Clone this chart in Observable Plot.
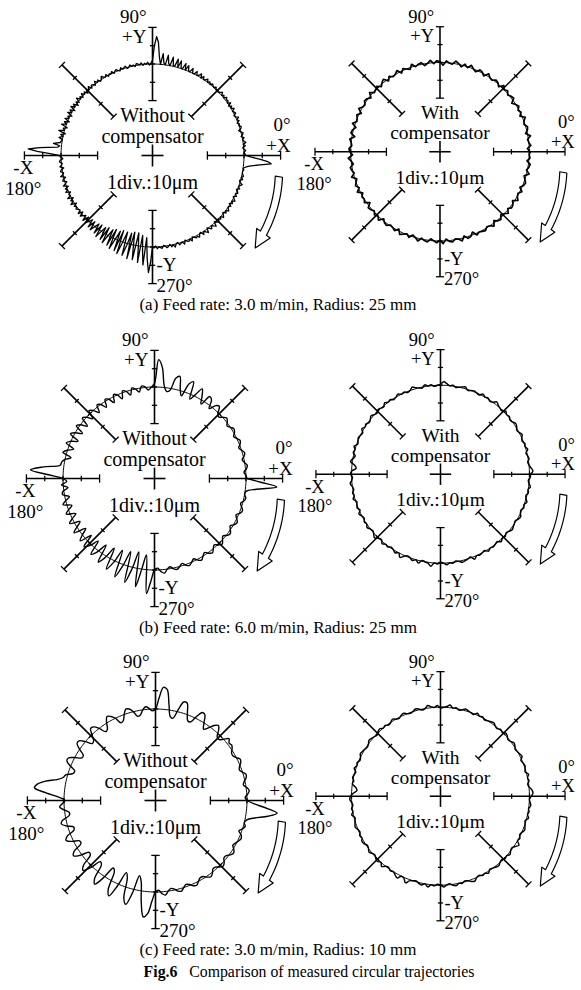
<!DOCTYPE html>
<html><head><meta charset="utf-8">
<script src="https://cdn.jsdelivr.net/npm/d3@7"></script>
<script src="https://cdn.jsdelivr.net/npm/@observablehq/plot@0.6"></script>
<style>
html,body{margin:0;padding:0;background:#fff;overflow:hidden;}
#page{position:relative;width:581px;height:990px;overflow:hidden;font-family:"Liberation Serif","Times New Roman",serif;color:#000;}
.panel{position:absolute;}
.panel svg{overflow:visible;}
.cap{position:absolute;text-align:center;font-size:17px;line-height:20px;white-space:nowrap;}
</style></head><body><div id="page"></div>
<script>
// ---------- data: radial deviation (μm) from the commanded circle, counter-clockwise from +X ----------
// (a) 3.0 m/min, R25 — 1° steps
const devA_without = [
 1,0.5,0,1,0,-0.5,1,0,1.5,0.5,
 0,1,-0.5,0.5,1,0,-1,0.5,1,0,
 0.5,-0.5,1,0,1.5,0,-0.5,1,0.5,0,
 1.5,0,1,-0.5,1.5,0,1,0.5,1.5,0,
 1,0,1.5,0.5,0,0.5,0,1,0,0.5,
 1,0,1,0,1.5,0.5,0,1.5,0,2,
 0.5,0,2,0,0,2.5,0,0.5,3,0,
 3.5,0,0.5,4,0,4.5,0.5,0.5,5,0,
 1,5.5,0,1,6,0,4,12,15,10,
 2,0.5,-0.5,1,0,0.5,-0.5,1,0,0.5,
 1,-0.5,0.5,0,1,0,-0.5,1,0.5,0,
 1,-0.5,0,1,0.5,-0.5,1,0,0.5,-0.5,
 1,0,0.5,1.5,0,-0.5,1,0,1.5,-0.5,
 0.5,1,-0.5,1.5,0,1,-1,1,0,1.5,
 -0.5,1,0,2,-0.5,1,-1,1.5,0,2,
 -1,1.5,0,2,-1,1,0,2,-1,1.5,
 0,2.5,-1,1,0,3,-1,1.5,0,2,
 0,0.5,1,4.5,1,2,12,18,13,6,
 1,0,-1,0.5,1,-0.5,0,1,-1,0.5,
 1,-0.5,0,1.5,-1,0.5,1,-1,0,1.5,
 -1,1,0,1.5,-1,0.5,0,2,-1,1,
 0,2,-1,1,0,1,0,-0.5,1.5,-1,
 1.5,0,-1,2,-1.5,2,0,-2,2.5,-2,
 3,0,-2.5,3,-3,4,0,-3,4,-4,
 5,0,-4,5,-5,6,0,-5,6,-6,
 7,0,-6,7,1,-6,8,-7,0,8,
 -7,-1,9,-6,2,10,-5,6,14,8,
 0,0.5,-0.5,1,0,0.5,1,-0.5,0,1,
 0.5,-0.5,1,0,1.5,0,-0.5,1,0.5,0,
 1.5,-0.5,0.5,1,0,1.5,-0.5,0,1,0.5,
 1.5,0,-0.5,1.5,0,1,2,-0.5,0.5,1.5,
 0,1,2,-0.5,0.5,1.5,0,1,0,1.5,
 0.5,-0.5,1,0,1.5,0.5,0,1,-0.5,1,
 0,1.5,0.5,-0.5,1,0,1,0.5,-0.5,1,
 0,0.5,1.5,0,-0.5,1,0,1,0.5,0,
 0,0.5,0,1.5,4,9,15,13,9,4
];
// 2° steps
const devA_with = [
 0.5,-1,1,0,-0.5,1.5,-1,0.5,1,-0.5,
 0,1.5,-1,0.5,-0.5,1,0,-1.5,1,0.5,
 -0.5,1,0,1.5,-1,0.5,1,-0.5,0,1.5,
 -1,0.5,1,-1,0,1.5,-0.5,1,-1,0.5,
 1.5,-0.5,0,1,-1.5,0.5,1,-0.5,1.5,0,
 -1,1,0.5,-0.5,1.5,-1,0,1,-1,1.5,
 0,-0.5,1,-1,1.5,0.5,-1,1,0,-0.5,
 1.5,-1,0.5,1,-0.5,0,1.5,-1,1,0,
 -0.5,1.5,-1,0.5,1,-1.5,1,0,-0.5,1,
 0.5,-1,1.5,0,-1,1,0.5,-0.5,1.5,-1,
 0,1,-0.5,1.5,-1,0.5,0,1,-1.5,1,
 0.5,-0.5,1,0,1.5,-1,0.5,1,-0.5,0,
 1,-1,1.5,0.5,-0.5,1,-1,0,1.5,-0.5,
 0.5,1,-1,0,1,-0.5,1.5,-1,0.5,1,
 -0.5,0,1.5,-1,1,0.5,-1.5,1,0,0.5,
 1,-0.5,0,1.5,-1,0.5,1,-1,0,1.5,
 -0.5,1,0.5,-1,1.5,0,-0.5,1,-1,0.5,
 1,0,-1,1.5,-0.5,0.5,1,-1,0.5,0
];
// (b) 6.0 m/min, R25 — 2° steps
const devB_without = [
 0.5,0,-1,0.5,1.2,0,-1,0.5,1.2,0,
 -1,0.5,1.2,0,-1,0.5,1.2,0,-1,0.5,
 1.5,0,-1.5,0,3,2,-1.5,3,4,-2,
 2,5.5,1,-2.5,7,5,-2.5,1,7.5,6,
 -1,-2,1,11,15,2,0,-1.5,0.5,1,
 -2,0,1,-2.5,0,1,-3,0,1,-3,
 0,1,-3,0,1,-3,0,1.5,-3,0,
 1.5,-3.5,0,1.5,-3.5,0,2,-3.5,0,2,
 -3,0,2,-3,0,1.5,2,11,18,8,
 0,-2,1,-2.5,0.5,1,-2.5,0,2,-2.5,
 0,2,-3,0,2.5,-3,0,3,-3.5,0,
 3,-3.5,3.5,1,-4,4,1,-5,5,1,
 -6,6,1,-7,8,1,-8,9,1,-9,
 10,0,-8,13,6,0,-1,1,2,0,
 -1,0.5,1.2,0,-1.2,0.5,1.2,0,-1.2,0.5,
 1.5,0,-1.2,0.5,1.5,0,-1.2,0.5,1.5,0,
 -1.2,0.5,1.2,0,-1.2,0.5,1.2,0,-1.2,0.5,
 1.2,0,-1,0.5,1,0,0.5,6,17,8
];
const devB_with = [
 0.5,2,1,0,-0.5,0.5,0,-0.5,1,0,
 0.5,-0.5,0,1,0,-0.5,0.5,1,0,-0.5,
 0.5,0,1,-0.5,0,0.5,1.5,0,-0.5,0.5,
 0,1,-0.5,0,0.5,0,-0.5,1,0.5,0,
 -0.5,0.5,0,1,2,0.5,0,-0.5,0.5,0,
 1,-0.5,0,0.5,1.5,0,-0.5,0.5,0,1,
 0,-0.5,0.5,0,1,-0.5,0,0.5,-0.5,0,
 1,0,-0.5,0.5,0,1,-0.5,0,0.5,0,
 -0.5,1,0,0.5,-1,0,1,-1.5,-2.5,0,
 0.5,-0.5,0,1,0,-0.5,0.5,0,1,-0.5,
 0,0.5,-0.5,1,0,-0.5,0.5,0,1,0,
 -0.5,0.5,1.5,0,-0.5,1,0,0.5,-0.5,0,
 1,0,2,0.5,-0.5,0,1,0,1.5,-0.5,
 0,0.5,2,0,0.5,-0.5,0,1,0,0.5,
 -0.5,0,1,0.5,0,-0.5,1.5,0,0.5,0,
 -0.5,1,0,0.5,0,-0.5,1,0,0.5,-0.5,
 0,1,0.5,0,-0.5,0.5,1,0,-0.5,0.5,
 0,1,0,-0.5,0.5,0,1,0,-0.5,0.5
];
// (c) 3.0 m/min, R10 — 2° steps
const devC_without = [
 0,-1,0.5,1.5,0.5,-1.2,-0.5,1,1.5,0,
 -1.2,-0.5,1,1.5,0,-1.2,-1,0.5,1.5,1,
 2.5,0,-2,-1.5,1.5,3.5,2,-1,-3,0,
 4,4.5,1,-3,-3,1,6,6,1,-4,
 -3.5,3,11,12,6,0,-1,0.5,1.5,0,
 -2.5,-3,0,2,2.5,0,-3,-3.5,0,2,
 3,0.5,-3,-3.5,0,2.5,3,0,-3,-3.5,
 0,3,3,0,-3.5,-3.5,0,3,3,0,
 -3,-2.5,1,2,5,11,15,16.5,10,3,
 -0.5,1,2.5,0,-2.5,-2,2,3,0.5,-3,
 -2.5,2,3.5,1,-3,-3,2.5,4,1,-4,
 -3.5,3,5,1,-5,-4,4,6.5,1,-6.5,
 -5,5,8,1,-7.5,-5,6,9,2,-8,
 -5,6,14,12,5,0,-1,1,2,0,
 -1.2,-0.5,1,1.5,0,-1.2,-0.5,1,1.5,0,
 -1.2,-1,0.5,1.5,0.5,-1.2,-1,0.5,1.5,0.5,
 -1.2,-1,0.5,1.5,0.5,-1.2,-0.5,0.5,1.2,0.5,
 -1.5,0,1,0,1,5,12,16.8,11,4
];
const devC_with = [
 1,2,1.5,0,-0.5,0.5,0,1,-0.5,0,
 0.5,0,-0.5,1,0.5,0,-0.5,0.5,1,0,
 -0.5,0.5,1,0,0.5,-0.5,0,1,0.5,0,
 -0.5,0.5,0,1,-0.5,0,0.5,1,0,-0.5,
 0.5,0,1.5,0.5,0,-0.5,1,0,0.5,1.5,
 0,-0.5,0.5,1,0,-0.5,0,1,0.5,-0.5,
 0,1,0,-0.5,0.5,0,1,0.5,-0.5,0,
 0.5,1,0,-0.5,0,0.5,1,0,-0.5,0.5,
 0,1,-0.5,0,0.5,-0.5,0,-2,-3,-1,
 0.5,1,0,-0.5,0.5,0,1,-0.5,0,0.5,
 1,0,-0.5,0.5,0,1,0.5,-0.5,0,1,
 0,-0.5,0.5,1,0,1.5,0,-0.5,0.5,0,
 1,2,0,0.5,2.5,0.5,0,-0.5,0.5,1,
 0,1.5,0,0.5,-0.5,0,1,0,-0.5,0.5,
 1,0,0.5,-0.5,0,1,1.5,0,-0.5,0.5,
 0,1,-0.5,0,0.5,1,0,-0.5,0.5,0,
 1,0,-0.5,0.5,2,0,0.5,-0.5,0,1,
 0.5,0,-0.5,1,0,0.5,0,1,0.5,0
];

// ---------- chart furniture ----------
const CIRCLE_R = 50;                 // commanded circle drawn at 5 divisions
const AXIS_ANGLES = [0,45,90,135,180,225,270,315];
const TICK_RADII = [30,40,50,60,70]; // 1 div = 10 μm
const CROSS_HALF = 6;
const ARROW_ANG = [-9.5,-35,-42];
const ARROW_R = [70,74,75.5];
const ARROW_SHAFT = 2, ARROW_HEAD = 4.5;
const kinds = ["Without","With"];
const innerTitle2 = "compensator";
const scaleText = "1div.:10μm";
const captions = [
 "(a) Feed rate: 3.0 m/min, Radius: 25 mm",
 "(b) Feed rate: 6.0 m/min, Radius: 25 mm",
 "(c) Feed rate: 3.0 m/min, Radius: 10 mm"
];
const figLabel = "Fig.6", figTitle = "Comparison of measured circular trajectories";
// two-line axis labels; dy = baseline of last line relative to axis end (px)
const axisLabels = [
 {t:"90°\n+Y",  a:90,  anchor:"end",    dx:-6, dy:16},
 {t:"0°\n+X",   a:0,   anchor:"end",    dx:10, dy:-4},
 {t:"-X\n180°", a:180, anchor:"middle", dx:-1, dy:39},
 {t:"-Y\n270°", a:270, anchor:"start",  dx:4,  dy:8}
];

// ---------- layout ----------
const K = 1.83;               // px per μm
const PW = 290, PH = 300, PX = 145, PY = 155;
const rowCenterY = [155, 478, 800];
const leftCenterX = [152, 154, 155];
const rightCenterX = [443, 444, 444];
const captionBaseline = [311, 634, 956];
const captionCenterX = 278;
const figBaseline = 978, figCenterX = 309;
const FONT = "Liberation Serif";
const LABEL_SIZE = 19, INNER_SIZE = 20;

function polar(r, deg){ const a = deg*Math.PI/180; return [r*Math.cos(a), r*Math.sin(a)]; }

function makePanel(dev, kind, curve, traceWidth){
  const step = 360/dev.length;
  const trace = dev.map((d,i)=>{ const [x,y]=polar(CIRCLE_R+d, i*step); return {x,y}; });
  trace.push(trace[0]);
  const ref = d3.range(0,361,1).map(a=>{ const [x,y]=polar(CIRCLE_R,a); return {x,y}; });
  const rIn = TICK_RADII[0], rOut = TICK_RADII[TICK_RADII.length-1];
  const axes = AXIS_ANGLES.map(a=>{ const [x1,y1]=polar(rIn,a); const [x2,y2]=polar(rOut,a); return {x1,y1,x2,y2}; });
  const ticks = [];
  for (const a of AXIS_ANGLES) for (const r of TICK_RADII){
    const h = (r===rIn || r===rOut) ? 2.3 : 1.45;
    const [x,y] = polar(r,a); const [px,py] = polar(h,a+90);
    ticks.push({x1:x-px,y1:y-py,x2:x+px,y2:y+py});
  }
  const cross = [0,90].map(a=>{ const [px,py]=polar(CROSS_HALF,a); return {x1:-px,y1:-py,x2:px,y2:py}; });
  // rotation arrow
  const rAt = a => ARROW_R[0]+(ARROW_R[1]-ARROW_R[0])*(a-ARROW_ANG[0])/(ARROW_ANG[1]-ARROW_ANG[0]);
  const arc = d3.range(ARROW_ANG[0], ARROW_ANG[1], -1).concat([ARROW_ANG[1]]);
  const outer = arc.map(a=>polar(rAt(a)+ARROW_SHAFT,a));
  const inner = arc.map(a=>polar(rAt(a)-ARROW_SHAFT,a)).reverse();
  const poly = [...outer, polar(ARROW_R[1]+ARROW_HEAD,ARROW_ANG[1]), polar(ARROW_R[2],ARROW_ANG[2]), polar(ARROW_R[1]-ARROW_HEAD,ARROW_ANG[1]), ...inner, outer[0]].map(([x,y])=>({x,y}));
  const base = {x:"x", y:"y", text:"t", fontFamily:FONT, lineAnchor:"bottom", fill:"black", lineHeight:1.06};
  const labelMarks = axisLabels.map(l=>{
    const [x,y] = polar(rOut,l.a);
    return Plot.text([{t:l.t, x:x+l.dx/K, y:y-l.dy/K}], {...base, fontSize:LABEL_SIZE, textAnchor:l.anchor});
  });
  return Plot.plot({
    width: PW, height: PH, margin: 0,
    x: {domain:[-PX/K,(PW-PX)/K], axis:null},
    y: {domain:[-(PH-PY)/K, PY/K], axis:null},
    style: {background:"none", overflow:"visible", fontFamily: FONT},
    marks: [
      Plot.line(ref, {x:"x", y:"y", stroke:"black", strokeWidth:1, curve:"linear"}),
      Plot.link(axes, {x1:"x1",y1:"y1",x2:"x2",y2:"y2", stroke:"black", strokeWidth:1.6}),
      Plot.link(ticks, {x1:"x1",y1:"y1",x2:"x2",y2:"y2", stroke:"black", strokeWidth:1.3}),
      Plot.link(cross, {x1:"x1",y1:"y1",x2:"x2",y2:"y2", stroke:"black", strokeWidth:1.6}),
      Plot.line(trace, {x:"x", y:"y", stroke:"black", strokeWidth:traceWidth, curve, strokeLinejoin:"round"}),
      Plot.line(poly, {x:"x", y:"y", stroke:"black", strokeWidth:1.2, fill:"white", curve:"linear"}),
      Plot.text([{t:kind+"\n"+innerTitle2, x:0, y:13/K}], {...base, fontSize:INNER_SIZE, textAnchor:"middle", lineHeight:1.02}),
      Plot.text([{t:scaleText, x:0, y:-33/K}], {...base, fontSize:INNER_SIZE, textAnchor:"middle"}),
      ...labelMarks
    ]
  });
}

const page = document.getElementById("page");
const rows = [
  [devA_without, devA_with, "linear", "linear", 1.3, 1.7],
  [devB_without, devB_with, "catmull-rom", "catmull-rom", 1.4, 1.5],
  [devC_without, devC_with, "catmull-rom", "catmull-rom", 1.4, 1.5]
];
function caption(baseline, centerX){
  const c = document.createElement("div");
  c.className = "cap";
  c.style.top = (baseline-16)+"px";
  c.style.left = (centerX-250)+"px";
  c.style.width = "500px";
  page.appendChild(c);
  return c;
}
rows.forEach((r,i)=>{
  [[r[0],kinds[0],r[2],r[4],leftCenterX[i]],[r[1],kinds[1],r[3],r[5],rightCenterX[i]]].forEach(([dev,kind,curve,w,cx])=>{
    const div = document.createElement("div");
    div.className = "panel";
    div.style.left = (cx-PX)+"px";
    div.style.top = (rowCenterY[i]-PY)+"px";
    div.appendChild(makePanel(dev,kind,curve,w));
    page.appendChild(div);
  });
  caption(captionBaseline[i], captionCenterX).textContent = captions[i];
});
const f = caption(figBaseline, figCenterX);
f.style.fontSize = "15.8px";
const b = document.createElement("b"); b.textContent = figLabel;
f.appendChild(b);
f.appendChild(document.createTextNode("\u00a0\u00a0\u00a0" + figTitle));
</script>
</body></html>
